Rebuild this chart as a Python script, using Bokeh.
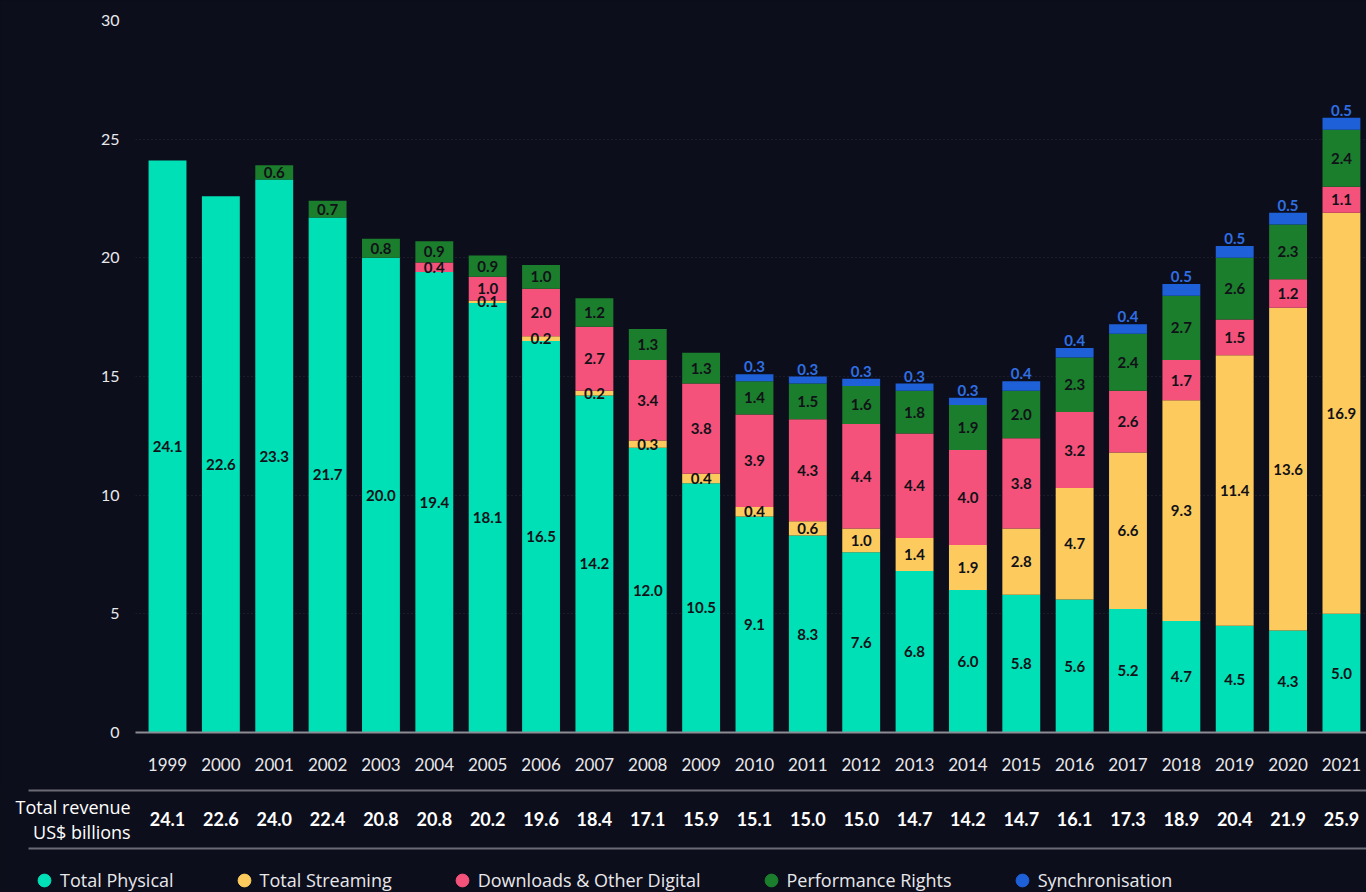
from bokeh.plotting import figure
from bokeh.models import Range1d, FixedTicker, ColumnDataSource, Legend, LegendItem
from bokeh.layouts import column
from bokeh.embed import file_html
from bokeh.resources import INLINE
from bokeh.core.properties import value

# ---------------- data ----------------
years = [str(y) for y in range(1999, 2022)]
physical = [24.1, 22.6, 23.3, 21.7, 20.0, 19.4, 18.1, 16.5, 14.2, 12.0, 10.5, 9.1,
            8.3, 7.6, 6.8, 6.0, 5.8, 5.6, 5.2, 4.7, 4.5, 4.3, 5.0]
streaming = [0, 0, 0, 0, 0, 0, 0.1, 0.2, 0.2, 0.3, 0.4, 0.4,
             0.6, 1.0, 1.4, 1.9, 2.8, 4.7, 6.6, 9.3, 11.4, 13.6, 16.9]
downloads = [0, 0, 0, 0, 0, 0.4, 1.0, 2.0, 2.7, 3.4, 3.8, 3.9,
             4.3, 4.4, 4.4, 4.0, 3.8, 3.2, 2.6, 1.7, 1.5, 1.2, 1.1]
performance = [0, 0, 0.6, 0.7, 0.8, 0.9, 0.9, 1.0, 1.2, 1.3, 1.3, 1.4,
               1.5, 1.6, 1.8, 1.9, 2.0, 2.3, 2.4, 2.7, 2.6, 2.3, 2.4]
sync = [0, 0, 0, 0, 0, 0, 0, 0, 0, 0, 0, 0.3,
        0.3, 0.3, 0.3, 0.3, 0.4, 0.4, 0.4, 0.5, 0.5, 0.5, 0.5]
totals = [24.1, 22.6, 24.0, 22.4, 20.8, 20.8, 20.2, 19.6, 18.4, 17.1, 15.9, 15.1,
          15.0, 15.0, 14.7, 14.2, 14.7, 16.1, 17.3, 18.9, 20.4, 21.9, 25.9]
y_ticks = [0, 5, 10, 15, 20, 25, 30]
series_keys = ["physical", "streaming", "downloads", "performance", "sync"]
series_names = ["Total Physical", "Total Streaming", "Downloads & Other Digital",
                "Performance Rights", "Synchronisation"]
colors = ["#00e0b6", "#fdcb5d", "#f5527b", "#1b7e2d", "#1e60d8"]

# ---------------- style ----------------
BG = "#0d0e1b"
TXT = "#e8e8ec"
FONT = "Lato"
FONT2 = "Open Sans"
W = 1366
PITCH = 53.36          # px per category
LEFT = 135             # plot frame left border
X0 = -0.6
X1 = X0 + (W - LEFT) / PITCH

idx = list(range(len(years)))
src = ColumnDataSource(dict(x=idx, physical=physical, streaming=streaming,
                            downloads=downloads, performance=performance, sync=sync))

p = figure(width=W, height=784, x_range=Range1d(X0, X1), y_range=Range1d(0, 30),
           output_backend="svg", toolbar_location=None,
           min_border_left=LEFT, min_border_right=0, min_border_top=20, min_border_bottom=52,
           background_fill_color=BG, border_fill_color=BG, outline_line_color=None)
p.frame_align = False

p.vbar_stack(series_keys, x="x", width=0.71, color=colors, line_color=None, source=src)

# segment labels
lx, ly, lt = [], [], []
sx, sy, st = [], [], []
for i in idx:
    base = 0.0
    vals = [physical[i], streaming[i], downloads[i], performance[i], sync[i]]
    for k, v in enumerate(vals):
        if v > 0:
            if k < 4:
                lx.append(i); ly.append(base + v / 2); lt.append(f"{v:.1f}")
            else:
                sx.append(i); sy.append(base + v); st.append(f"{v:.1f}")
        base += v

p.text(x=lx, y=ly, text=lt, text_align="center", text_baseline="middle",
       text_font=value(FONT), text_font_style="bold", text_font_size="15px",
       text_color="#111118")
p.text(x=sx, y=sy, text=st, text_align="center", text_baseline="bottom", y_offset=-2,
       text_font=value(FONT), text_font_style="bold", text_font_size="15px",
       text_color="#2f6fe4")

p.ygrid.ticker = FixedTicker(ticks=y_ticks)
p.ygrid.grid_line_color = "#ffffff"
p.ygrid.grid_line_alpha = 0.13
p.ygrid.grid_line_dash = "1 3"
p.xgrid.grid_line_color = None

p.yaxis.ticker = FixedTicker(ticks=y_ticks)
p.yaxis.axis_line_color = None
p.yaxis.major_tick_line_color = None
p.yaxis.minor_tick_line_color = None
p.yaxis.major_label_text_color = TXT
p.yaxis.major_label_text_font = FONT
p.yaxis.major_label_text_font_size = "16px"
p.yaxis.major_label_standoff = 10

p.xaxis.ticker = FixedTicker(ticks=idx)
p.xaxis.major_label_overrides = {i: y for i, y in zip(idx, years)}
p.xaxis.axis_line_color = "#8c8c94"
p.xaxis.axis_line_width = 2
p.xaxis.major_tick_line_color = None
p.xaxis.minor_tick_line_color = None
p.xaxis.major_label_text_color = TXT
p.xaxis.major_label_text_font = FONT
p.xaxis.major_label_text_font_size = "17px"
p.xaxis.major_label_standoff = 19

# ---------------- table + legend ----------------
H2 = 108
QX0 = X0 - LEFT / PITCH
q = figure(width=W, height=H2, x_range=Range1d(QX0, X1), y_range=Range1d(H2, 0),
           output_backend="svg", toolbar_location=None, x_axis_type=None, y_axis_type=None,
           min_border=0, background_fill_color=BG, border_fill_color=BG, outline_line_color=None)
q.frame_align = False
q.grid.grid_line_color = None

line_x0 = QX0 + 28 / PITCH
q.segment(x0=[line_x0, line_x0], y0=[6, 64], x1=[X1, X1], y1=[6, 64],
          line_color="#6a6a74", line_width=2)
q.text(x=idx, y=[34] * len(idx), text=[f"{t:.1f}" for t in totals],
       text_align="center", text_baseline="middle", text_font=value(FONT),
       text_font_style="bold", text_font_size="18px", text_color="#ffffff")
q.text(x=[X0 - 0.09, X0 - 0.09], y=[22, 47], text=["Total revenue", "US$ billions"],
       text_align="right", text_baseline="middle", text_font=value(FONT2),
       text_font_size="18px", text_color="#ffffff")

items = []
nan = float("nan")
for name, c in zip(series_names, colors):
    r = q.scatter(x=[nan], y=[nan], marker="circle", size=12, fill_color=c, line_color=c)
    items.append(LegendItem(label=name, renderers=[r]))
legend = Legend(items=items, orientation="horizontal", location=(28, -4),
                glyph_width=32, glyph_height=32, label_standoff=0, spacing=54,
                padding=0, margin=0, border_line_color=None, background_fill_alpha=0,
                label_text_color=TXT, label_text_font=FONT2, label_text_font_size="18px")
q.add_layout(legend)

layout = column(p, q)
html = file_html(layout, INLINE)
html = html.replace("</head>", "<style>body{background:#0d0e1b;}</style></head>", 1)
open("out.html", "w").write(html)
